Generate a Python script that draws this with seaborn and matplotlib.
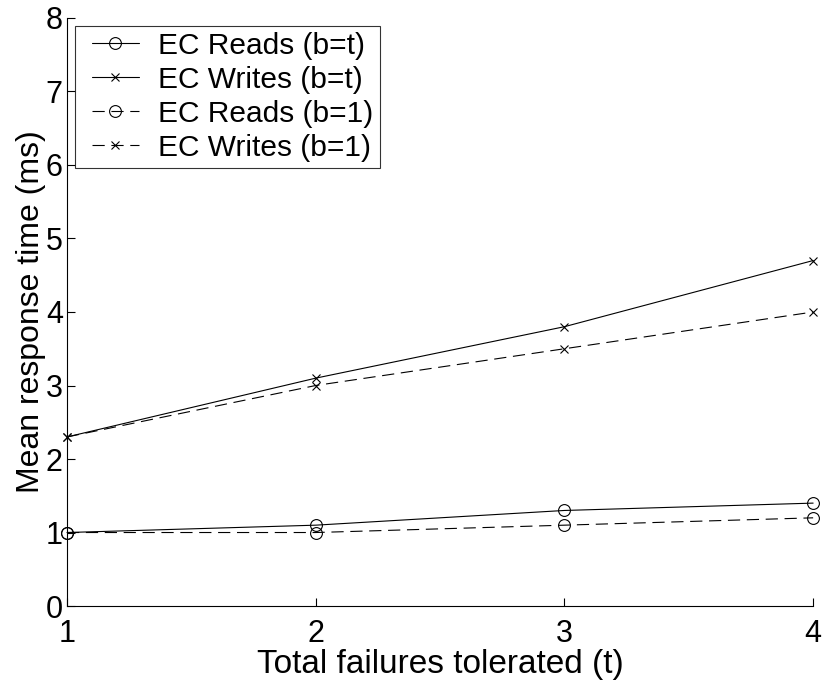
import numpy as np
import pandas as pd
import matplotlib
matplotlib.use("Agg")
import matplotlib.pyplot as plt
from matplotlib.lines import Line2D
from matplotlib.legend_handler import HandlerLine2D
import seaborn as sns

# Data
failures = [1, 2, 3, 4]
reads_bt = [1.0, 1.1, 1.3, 1.4]
writes_bt = [2.3, 3.1, 3.8, 4.7]
reads_b1 = [1.0, 1.0, 1.1, 1.2]
writes_b1 = [2.3, 3.0, 3.5, 4.0]
labels = ["EC Reads (b=t)", "EC Writes (b=t)", "EC Reads (b=1)", "EC Writes (b=1)"]
x_ticks = [1, 2, 3, 4]
y_ticks = [0, 1, 2, 3, 4, 5, 6, 7, 8]

sns.set_theme(style="white")
plt.rcParams['font.family'] = ['Liberation Sans', 'DejaVu Sans']

fig = plt.figure(figsize=(8.23, 6.83), dpi=100)
ax = fig.add_axes([0.0814, 0.1127, 0.9066, 0.861])

series = [reads_bt, writes_bt, reads_b1, writes_b1]
markers = ['o', 'x', 'o', 'x']
dash = (0, (11, 6))
styles = ['-', '-', dash, dash]
msizes = [8.5, 5.5, 8.5, 5.5]
for vals, lab, mk, ls, ms in zip(series, labels, markers, styles, msizes):
    df = pd.DataFrame({"t": failures, "v": vals})
    sns.lineplot(data=df, x="t", y="v", ax=ax, color='black', linewidth=0.8,
                 linestyle=ls, marker=mk, markersize=ms, markerfacecolor='none',
                 markeredgecolor='black', markeredgewidth=0.8, label=lab,
                 clip_on=False)

ax.set_xlim(1, 4)
ax.set_ylim(0, 8)
ax.set_xticks(x_ticks)
ax.set_yticks(y_ticks)
ax.tick_params(direction='in', length=6, width=0.8, labelsize=22, colors='black',
               bottom=True, left=True)
ax.tick_params(axis='x', pad=9)
ax.tick_params(axis='y', pad=3)
for s in ['top', 'right']:
    ax.spines[s].set_visible(False)
for s in ['left', 'bottom']:
    ax.spines[s].set_color('black')
    ax.spines[s].set_linewidth(0.8)

ax.set_xlabel("Total failures tolerated (t)", fontsize=24, color='black', labelpad=0)
ax.set_ylabel("Mean response time (ms)", fontsize=23, color='black', labelpad=0)

leg = ax.legend(loc='upper left', fontsize=21.5, frameon=True, fancybox=False,
                edgecolor='black', handlelength=1.95, handletextpad=0.65,
                borderaxespad=0.26, labelspacing=0.2, borderpad=0.2,
                labelcolor='black',
                handler_map={Line2D: HandlerLine2D(xpad=0.37)})
leg.get_frame().set_linewidth(0.8)

fig.savefig("out.png", dpi=100)
